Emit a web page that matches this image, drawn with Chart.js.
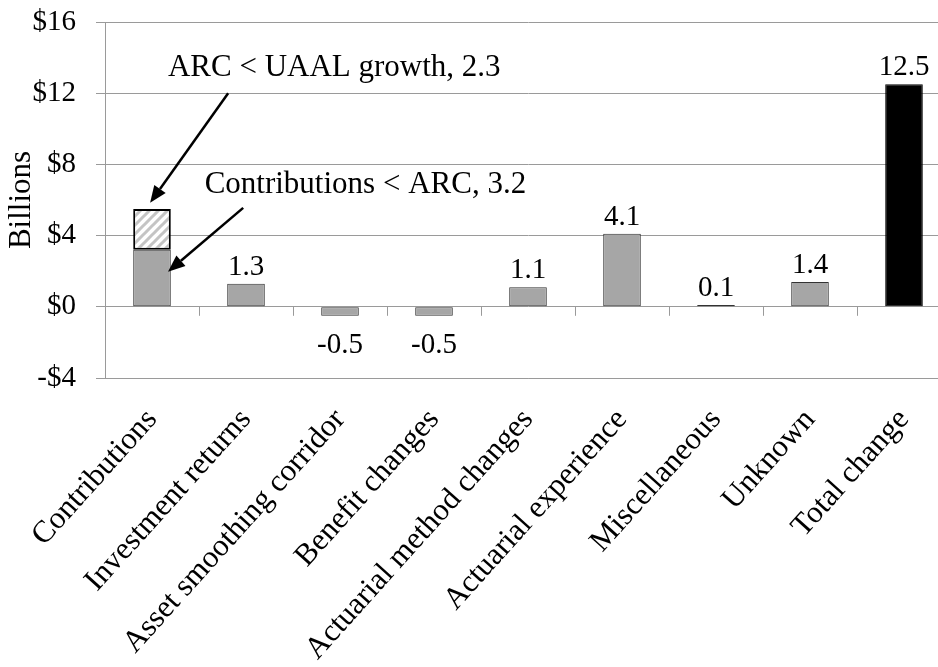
<!DOCTYPE html>
<html>
<head>
<meta charset="utf-8">
<script src="https://cdn.jsdelivr.net/npm/chart.js@4"></script>
<style>
  html, body { margin: 0; padding: 0; background: #fff; overflow: hidden; }
  #wrap { width: 960px; height: 667px; }
</style>
</head>
<body>
<div id="wrap"><canvas id="chart"></canvas></div>
<script>
// ==================== DATA ====================
const categories = ["Contributions", "Investment returns", "Asset smoothing corridor", "Benefit changes",
  "Actuarial method changes", "Actuarial experience", "Miscellaneous", "Unknown", "Total change"];
const mainValues = [3.2, 1.3, -0.5, -0.5, 1.1, 4.1, 0.1, 1.4, 12.5];
const arcGapValues = [2.3, null, null, null, null, null, null, null, null];
const yTicks = [-4, 0, 4, 8, 12, 16];

const annoTexts = ["ARC < UAAL growth, 2.3", "Contributions < ARC, 3.2"];

const FONT = "'Liberation Serif', 'Times New Roman', serif";

// hatched fill for the ARC < UAAL segment
function makeHatch() {
  const c = document.createElement("canvas");
  c.width = 9; c.height = 9;
  const g = c.getContext("2d");
  g.fillStyle = "#fff";
  g.fillRect(0, 0, 9, 9);
  g.strokeStyle = "#c4c4c4";
  g.lineWidth = 3;
  g.beginPath();
  g.moveTo(-2, 11); g.lineTo(11, -2);
  g.moveTo(-2, 2); g.lineTo(2, -2);
  g.moveTo(7, 11); g.lineTo(11, 7);
  g.stroke();
  return g.createPattern(c, "repeat");
}

// fractional category position -> pixel
function catX(xs, v) {
  const p0 = xs.getPixelForValue(0), p1 = xs.getPixelForValue(1);
  return p0 + v * (p1 - p0);
}

function arrow(ctx, x1, y1, x2, y2) {
  const a = Math.atan2(y2 - y1, x2 - x1), len = 17, w = 7;
  const bx = x2 - len * Math.cos(a), by = y2 - len * Math.sin(a);
  ctx.strokeStyle = "#000"; ctx.fillStyle = "#000"; ctx.lineWidth = 2.5;
  ctx.beginPath(); ctx.moveTo(x1, y1); ctx.lineTo(bx, by); ctx.stroke();
  ctx.beginPath();
  ctx.moveTo(x2, y2);
  ctx.lineTo(bx + w * Math.sin(a), by - w * Math.cos(a));
  ctx.lineTo(bx - w * Math.sin(a), by + w * Math.cos(a));
  ctx.closePath(); ctx.fill();
}

// ==================== PLUGINS ====================
const extras = {
  id: "extras",
  afterDatasetsDraw(chart) {
    const ctx = chart.ctx, xs = chart.scales.x, ys = chart.scales.y;
    const meta = chart.getDatasetMeta(0);
    ctx.save();
    // small tick marks under the zero line between categories
    const y0 = ys.getPixelForValue(0);
    ctx.strokeStyle = "#9a9a9a"; ctx.lineWidth = 1;
    for (let i = 0; i < categories.length - 1; i++) {
      const x = Math.round(catX(xs, i + 0.5)) + 0.5;
      ctx.beginPath(); ctx.moveTo(x, y0); ctx.lineTo(x, y0 + 9); ctx.stroke();
    }
    // value labels
    ctx.fillStyle = "#000";
    ctx.font = "29px " + FONT;
    ctx.textAlign = "center";
    ctx.textBaseline = "alphabetic";
    mainValues.forEach((v, i) => {
      if (i === 0) return;
      const bar = meta.data[i];
      const txt = v.toFixed(1);
      if (v >= 0) ctx.fillText(txt, bar.x, ys.getPixelForValue(v) - 9);
      else ctx.fillText(txt, bar.x, ys.getPixelForValue(v) + 37);
    });
    // annotations
    ctx.font = "31px " + FONT;
    ctx.textAlign = "left";
    ctx.fillText(annoTexts[0], catX(xs, 0.17), ys.getPixelForValue(12.98));
    ctx.fillText(annoTexts[1], catX(xs, 0.56), ys.getPixelForValue(6.4));
    arrow(ctx, catX(xs, 0.81), ys.getPixelForValue(12.0), catX(xs, -0.02), ys.getPixelForValue(5.84));
    arrow(ctx, catX(xs, 0.97), ys.getPixelForValue(5.56), catX(xs, 0.17), ys.getPixelForValue(1.97));
    ctx.restore();
  }
};

// ==================== CHART ====================
document.addEventListener("DOMContentLoaded", () => {
  const ctx = document.getElementById("chart").getContext("2d");
  const hatch = makeHatch();
  new Chart(ctx, {
    type: "bar",
    data: {
      labels: categories,
      datasets: [
        {
          data: mainValues,
          backgroundColor: mainValues.map((v, i) => i === mainValues.length - 1 ? "#000" : "#a6a6a6"),
          borderColor: mainValues.map((v, i) => i === mainValues.length - 1 ? "#000" : "#333"),
          borderWidth: 1,
          borderSkipped: false,
          barPercentage: 0.4,
          categoryPercentage: 1.0
        },
        {
          data: arcGapValues,
          backgroundColor: hatch,
          borderColor: "#000",
          borderWidth: 2,
          borderSkipped: false,
          barPercentage: 0.4,
          categoryPercentage: 1.0
        }
      ]
    },
    options: {
      responsive: true,
      maintainAspectRatio: false,
      animation: false,
      layout: { padding: { top: 22, right: 9, left: 0, bottom: 0 } },
      plugins: { legend: { display: false }, tooltip: { enabled: false } },
      scales: {
        x: {
          stacked: true,
          grid: { display: false },
          border: { display: true, color: "#9a9a9a" },
          ticks: {
            autoSkip: false, minRotation: 48, maxRotation: 48,
            padding: 16, color: "#000", font: { family: FONT, size: 31 }
          },
          afterFit(scale) { scale.height = 289; }
        },
        y: {
          stacked: true,
          min: -4, max: 16,
          afterBuildTicks(scale) { scale.ticks = yTicks.map(v => ({ value: v })); },
          grid: { color: "#9a9a9a", lineWidth: 1, tickLength: 9 },
          border: { display: true, color: "#9a9a9a" },
          ticks: {
            padding: 20, color: "#000", font: { family: FONT, size: 29 },
            callback: v => (v < 0 ? "-$" + Math.abs(v) : "$" + v)
          },
          title: {
            display: true, text: "Billions", color: "#000",
            font: { family: FONT, size: 31 }, padding: { top: 3, bottom: 0 }
          },
          afterFit(scale) { scale.width = 105; scale.paddingTop = 0; scale.paddingBottom = 0; }
        }
      }
    },
    plugins: [extras]
  });
});
</script>
</body>
</html>
